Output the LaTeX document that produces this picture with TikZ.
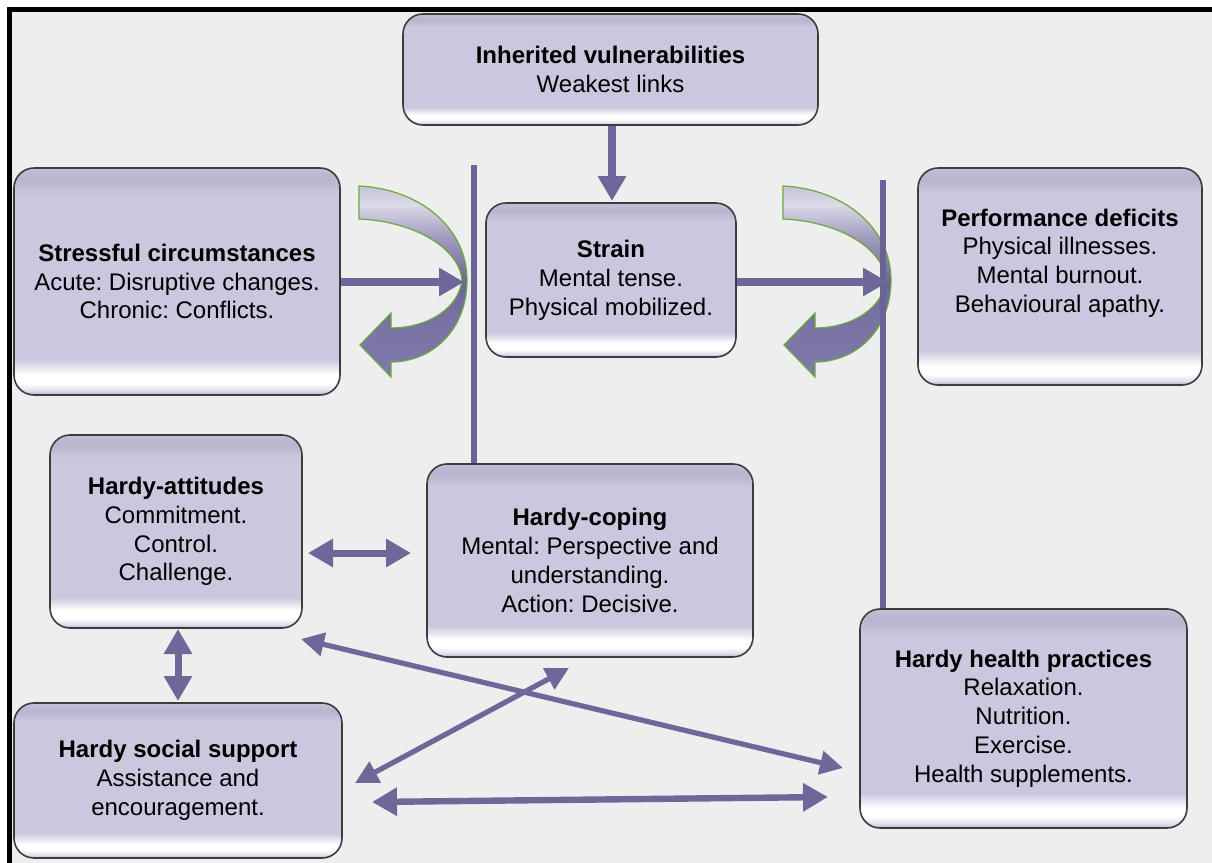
\documentclass[tikz,border=0pt]{standalone}
\usepackage{fontspec}
\setmainfont{Liberation Sans}
\usetikzlibrary{arrows.meta}
\frenchspacing
\definecolor{bg}{HTML}{EEEEEE}
\definecolor{arr}{HTML}{6E679A}
\definecolor{vln}{HTML}{6B6396}
\definecolor{bxM}{HTML}{CBC7DE}
\definecolor{bxL}{HTML}{DCD9EA}
\definecolor{bxE}{HTML}{A9A3C4}
\definecolor{bxT}{HTML}{B9B4CF}
\definecolor{bxT2}{HTML}{C3BFD7}
\definecolor{bxedge}{HTML}{3C3C3C}
\definecolor{grn}{HTML}{6AAA3A}
\definecolor{aA}{HTML}{8079AB}
\definecolor{aB}{HTML}{7A72A3}
\definecolor{aC}{HTML}{6C6596}
\definecolor{aD}{HTML}{A39DBF}
\definecolor{aE}{HTML}{DCD9E8}
\definecolor{aF}{HTML}{C6C2D9}
\pgfdeclareverticalshading{boxshade}{100bp}{color(0bp)=(bxE); color(25bp)=(bxE); color(25.8bp)=(bxL); color(27.5bp)=(white); color(29.5bp)=(white); color(33bp)=(bxM); color(69bp)=(bxM); color(72.5bp)=(bxT); color(75bp)=(bxT2); color(100bp)=(bxT2)}
\pgfdeclareverticalshading{arrshade}{100bp}{color(0bp)=(aA); color(25bp)=(aA); color(40bp)=(aB); color(50bp)=(aC); color(62bp)=(aD); color(70bp)=(aE); color(75bp)=(aF); color(100bp)=(aF)}
\tikzset{
  box/.style={draw=bxedge, line width=0.8pt, rounded corners=10pt, shading=boxshade,
    align=center, inner sep=0pt, font=\fontsize{12}{14.4}\selectfont},
  txt/.style={align=center, inner sep=0pt, font=\fontsize{12}{14.4}\selectfont},
  conn/.style={draw=arr, line width=3.6pt, -{Triangle[length=12.5pt,width=13.5pt]}},
  dconn/.style={draw=arr, line width=3.5pt, {Triangle[length=12.5pt,width=13.5pt]}-{Triangle[length=12.5pt,width=13.5pt]}},
  diag/.style={draw=arr, line width=2.6pt, {Triangle[length=11.5pt,width=11.5pt]}-{Triangle[length=11.5pt,width=11.5pt]}},
  vline/.style={draw=vln, line width=3pt},
  curvarr/.pic={
    \shadedraw[shading=arrshade, draw=grn, line width=0.6pt]
      (359,186) .. controls (420,189) and (467,228) .. (467,280)
      .. controls (467,330) and (432,362) .. (391,362)
      -- (391,377) -- (360,345) -- (391,313) -- (391,328)
      .. controls (428,328) and (459,308) .. (462,280)
      .. controls (459,247) and (412,221) .. (359,219) -- cycle;
  }
}
\begin{document}
\begin{tikzpicture}[x=0.5pt,y=-0.5pt]
\useasboundingbox (0,0) rectangle (1212,863);
\clip (0,0) rectangle (1212,863);
\fill[white] (0,0) rectangle (1212,863);
\fill[bg] (9.5,9.5) rectangle (1260,900);
\draw[black, line width=2.2pt] (9.5,1000) -- (9.5,9.5) -- (1300,9.5);

% boxes
\node[box, minimum width=207.5pt, minimum height=55.5pt] (inh) at (610.5,69.5)
  {\textbf{Inherited vulnerabilities}\\Weakest links};
\node[box, minimum width=163pt, minimum height=113.5pt] (stress) at (177,281.5)
  {\textbf{Stressful circumstances}\\Acute: Disruptive changes.\\Chronic: Conflicts.};
\node[box, minimum width=125pt, minimum height=77pt] (strain) at (611,280)
  {\textbf{Strain}\\Mental tense.\\Physical mobilized.};
\node[box, minimum width=142pt, minimum height=108.5pt] (perf) at (1060,276.5) {};
\node[txt] (perftext) at (1060,263)
  {\textbf{Performance deficits}\\Physical illnesses.\\Mental burnout.\\Behavioural apathy.};
\node[box, minimum width=126pt, minimum height=96.5pt] (att) at (176,531.5)
  {\textbf{Hardy-attitudes}\\Commitment.\\Control.\\Challenge.};
\node[box, minimum width=163pt, minimum height=96.5pt] (cop) at (590,560.5)
  {\textbf{Hardy-coping}\\Mental: Perspective and\\understanding.\\Action: Decisive.};
\node[box, minimum width=164pt, minimum height=77.5pt] (soc) at (178,780.5)
  {\textbf{Hardy social support}\\Assistance and\\encouragement.};
\node[box, minimum width=163.5pt, minimum height=109.5pt] (hea) at (1023.5,718.5)
  {\textbf{Hardy health practices}\\Relaxation.\\Nutrition.\\Exercise.\\Health supplements.};

% curved arrows
\pic (cl) at (0,0) {curvarr};
\pic (cr) at (424,0) {curvarr};

% coordinates for free ends
\coordinate (c1) at (612,201);
\coordinate (c2) at (464,282);
\coordinate (c3) at (888,282);
\coordinate (v1) at (474,165);
\coordinate (v2) at (883,180);
\coordinate (a1) at (308,553);
\coordinate (a2) at (411,553);
\coordinate (b1) at (178,629);
\coordinate (b2) at (178,701);
\coordinate (d1) at (301,639);
\coordinate (d2) at (843,768);
\coordinate (e1) at (355,783);
\coordinate (e2) at (569,668);
\coordinate (f1) at (372,802);
\coordinate (f2) at (828,797);

% vertical lines
\draw[vline] (cop.north -| v1) -- (v1);
\draw[vline] (hea.north -| v2) -- (v2);

% connectors
\draw[conn] (inh.south -| c1) -- (c1);
\draw[conn] (stress.east |- c2) -- (c2);
\draw[conn] (strain.east |- c3) -- (c3);
\draw[dconn] (a1) -- (a2);
\draw[dconn] (b1) -- (b2);
\draw[diag] (d1) -- (d2);
\draw[diag] (e1) -- (e2);
\draw[dconn, line width=3.2pt] (f1) -- (f2);
\end{tikzpicture}
\end{document}
